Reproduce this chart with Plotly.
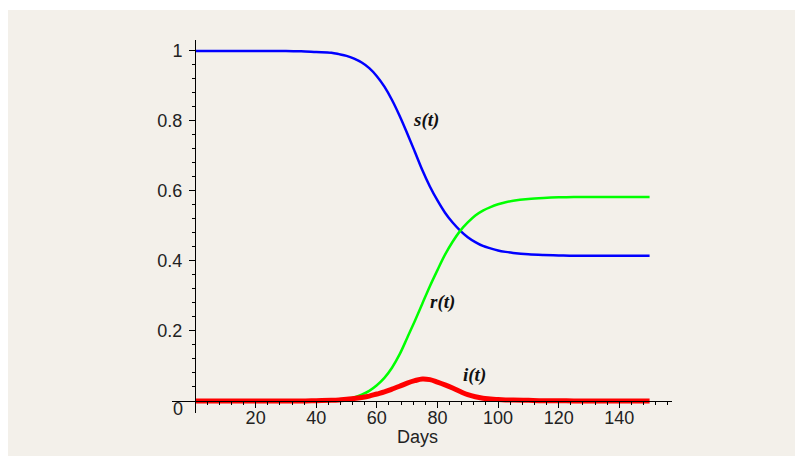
import plotly.graph_objects as go

days = [0, 5, 10, 15, 20, 25, 30, 35, 40,
        45, 47.5, 50, 52.5, 55, 57.5, 60, 62.5, 65, 67.5, 70, 72.5, 75, 77.5, 80, 82.5,
        85, 87.5, 90, 92.5, 95, 97.5, 100, 102.5, 105,
        110, 115, 120, 125, 130, 135, 140, 145, 150]
s_vals = [1.0, 1.0, 1.0, 1.0, 1.0, 1.0, 1.0, 0.999, 0.997,
          0.995, 0.991, 0.986, 0.978, 0.967, 0.951, 0.928, 0.898, 0.86, 0.815, 0.765, 0.713,
          0.66, 0.613, 0.573, 0.538, 0.51, 0.487, 0.468, 0.454, 0.443, 0.436, 0.43, 0.426,
          0.423,
          0.419, 0.417, 0.416, 0.415, 0.415, 0.415, 0.415, 0.415, 0.415]
r_vals = [0.0, 0.0, 0.0, 0.0, 0.0, 0.0, 0.0, 0.0, 0.0,
          0.001, 0.003, 0.005, 0.01, 0.018, 0.029, 0.045, 0.066, 0.095, 0.133, 0.18, 0.228,
          0.278, 0.328, 0.374, 0.418, 0.455, 0.486, 0.51, 0.53, 0.544, 0.554, 0.562, 0.568,
          0.572,
          0.577, 0.58, 0.582, 0.583, 0.583, 0.583, 0.583, 0.583, 0.583]
i_vals = [0.0, 0.0, 0.0, 0.0, 0.0, 0.0, 0.0, 0.0, 0.001,
          0.002, 0.003, 0.005, 0.007, 0.01, 0.014, 0.02, 0.026, 0.034, 0.042, 0.051, 0.058,
          0.063, 0.061, 0.054, 0.046, 0.037, 0.027, 0.018, 0.012, 0.008, 0.006, 0.004, 0.003,
          0.003,
          0.002, 0.001, 0.001, 0.0, 0.0, 0.0, 0.0, 0.0, 0.0]

x_ticks = [20, 40, 60, 80, 100, 120, 140]
y_ticks = [0.2, 0.4, 0.6, 0.8, 1.0]
y_tick_labels = ["0.2", "0.4", "0.6", "0.8", "1"]
curve_labels = [("s(t)", 76.2, 0.803), ("r(t)", 81.8, 0.283), ("i(t)", 92.1, 0.074)]

BG = "#f3f0ea"
TICKFONT = dict(family="Liberation Sans, Arial, sans-serif", size=18, color="#222222")

fig = go.Figure()
fig.add_trace(go.Scatter(x=days, y=s_vals, mode="lines",
                         line=dict(color="#0000ff", width=2.5, shape="spline", smoothing=1.0)))
fig.add_trace(go.Scatter(x=days, y=r_vals, mode="lines",
                         line=dict(color="#00ff00", width=2.5, shape="spline", smoothing=1.0)))
fig.add_trace(go.Scatter(x=days, y=i_vals, mode="lines",
                         line=dict(color="#ff0000", width=5, shape="spline", smoothing=1.0)))

for txt, x, y in curve_labels:
    fig.add_annotation(x=x, y=y, xref="x", yref="y", text="<b><i>" + txt + "</i></b>",
                       showarrow=False,
                       font=dict(family="Liberation Serif, Times New Roman, serif", size=19,
                                 color="#111111"))

# y-axis "0" label (drawn slightly below the origin as in the reference)
fig.add_annotation(x=-5.6, y=-0.023, xref="x", yref="y", text="0", showarrow=False,
                   font=TICKFONT)
# x-axis title
fig.add_annotation(x=73.3, y=-0.064, xref="x", yref="paper", text="Days", showarrow=False,
                   font=TICKFONT, yanchor="middle")

# beige panel behind the chart
fig.add_shape(type="rect", xref="paper", yref="paper", x0=-0.328, x1=1.25, y0=-0.115,
              y1=1.0804, fillcolor=BG, line=dict(width=0), layer="below")

fig.update_layout(
    width=795, height=457,
    margin=dict(l=164, r=131, t=32, b=52, autoexpand=False),
    paper_bgcolor="white", plot_bgcolor="rgba(0,0,0,0)",
    showlegend=False,
    xaxis=dict(range=[-7.6, 157.4], anchor="free", position=0.0322, automargin=False,
               showgrid=False, zeroline=False, showline=True, linecolor="black", linewidth=1,
               tickmode="array", tickvals=x_ticks, ticks="outside", ticklen=6,
               tickcolor="black", tickfont=TICKFONT, ticklabelstandoff=-6,
               minor=dict(tickmode="array", tickvals=list(range(4, 157, 4)), ticks="outside",
                          ticklen=3, tickcolor="black")),
    yaxis=dict(range=[-0.0343, 1.0314], anchor="free", position=0.046, automargin=False,
               showgrid=False, zeroline=False, showline=True, linecolor="black", linewidth=1,
               tickmode="array", tickvals=y_ticks, ticktext=y_tick_labels, ticks="outside",
               ticklen=6, tickcolor="black", tickfont=TICKFONT, ticklabelstandoff=3,
               minor=dict(tickmode="array",
                          tickvals=[round(0.04 * k, 2) for k in range(1, 26)],
                          ticks="outside", ticklen=3, tickcolor="black")),
)

fig.write_html("out.html")
